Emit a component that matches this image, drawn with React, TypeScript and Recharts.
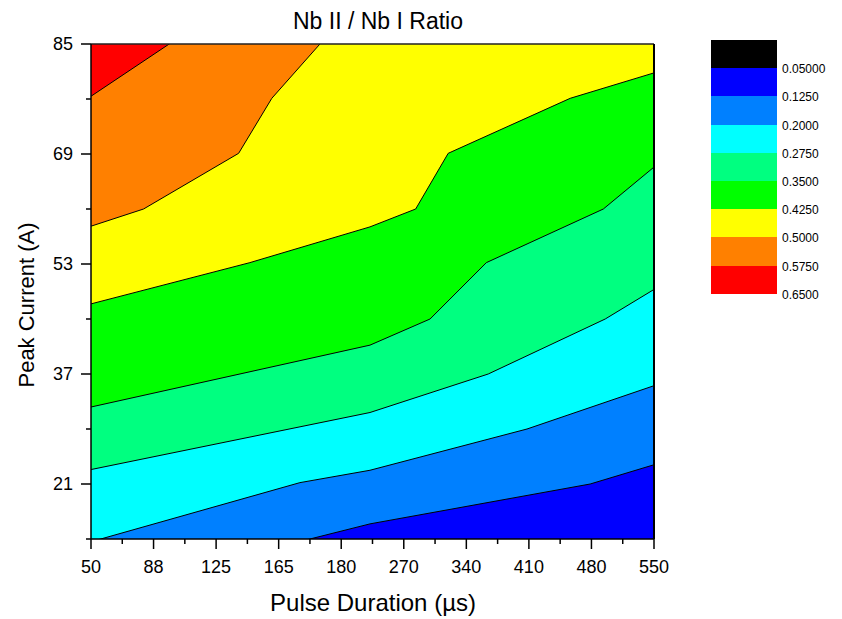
import React from "react";
import { ComposedChart, Area, XAxis, YAxis, CartesianGrid, ReferenceLine } from "recharts";

// x = position of the pulse duration on the (categorical-looking) axis, 0..9
const durationLabels = ["50", "88", "125", "165", "180", "270", "340", "410", "480", "550"];
const currentTicks = [13, 21, 29, 37, 45, 53, 61, 69, 77, 85];
const labeledCurrents = [21, 37, 53, 69, 85];

// contour lines (Nb II / Nb I ratio levels)
const line0125 = [
  { x: 0, y: 5.0 }, { x: 3.5, y: 13.0 }, { x: 4.46, y: 15.2 }, { x: 7.98, y: 21.0 }, { x: 9, y: 23.8 },
];
const line0200 = [
  { x: 0, y: 12.6 }, { x: 3.34, y: 21.2 }, { x: 4.46, y: 23.0 }, { x: 6.97, y: 29.0 }, { x: 9, y: 35.3 },
];
const line0275 = [
  { x: 0, y: 23.1 }, { x: 4.46, y: 31.4 }, { x: 6.35, y: 37.0 }, { x: 8.22, y: 45.0 }, { x: 9, y: 49.3 },
];
const line0350 = [
  { x: 0, y: 32.2 }, { x: 4.46, y: 41.2 }, { x: 5.42, y: 45.0 }, { x: 6.32, y: 53.2 }, { x: 8.19, y: 61.0 }, { x: 9, y: 67.1 },
];
const line0425 = [
  { x: 0, y: 47.2 }, { x: 2.54, y: 53.2 }, { x: 4.46, y: 58.4 }, { x: 5.19, y: 61.0 }, { x: 5.71, y: 69.1 }, { x: 7.66, y: 77.1 }, { x: 9, y: 80.8 },
];
const line0500 = [
  { x: 0, y: 58.5 }, { x: 0.84, y: 61.0 }, { x: 2.36, y: 69.1 }, { x: 2.89, y: 77.1 }, { x: 3.66, y: 85 }, { x: 4.5, y: 93 }, { x: 9, y: 100 },
];
const line0575 = [
  { x: 0, y: 77.4 }, { x: 1.25, y: 85 }, { x: 2, y: 90 }, { x: 9, y: 100 },
];

const levelLabels = ["0.05000", "0.1250", "0.2000", "0.2750", "0.3500", "0.4250", "0.5000", "0.5750", "0.6500"];
const levelColors = ["#000000", "#0000FF", "#0080FF", "#00FFFF", "#00FF80", "#00FF00", "#FFFF00", "#FF8000", "#FF0000"];

// each line fills everything above it with the next colour
const contours = [
  { data: line0125, color: "#0080FF" },
  { data: line0200, color: "#00FFFF" },
  { data: line0275, color: "#00FF80" },
  { data: line0350, color: "#00FF00" },
  { data: line0425, color: "#FFFF00" },
  { data: line0500, color: "#FF8000" },
  { data: line0575, color: "#FF0000" },
];

const FONT = "'Liberation Sans', Arial, sans-serif";

const XTick = (props: any) => {
  const { x, y, payload } = props;
  const major = Number.isInteger(payload.value);
  return (
    <g>
      <line x1={x} x2={x} y1={y} y2={y + (major ? 10 : 5)} stroke="#000" strokeWidth={1.5} />
      {major && (
        <text x={x} y={y + 33.5} textAnchor="middle" fontSize={18} fontFamily={FONT} fill="#000">
          {durationLabels[payload.value]}
        </text>
      )}
    </g>
  );
};

const YTick = (props: any) => {
  const { x, y, payload } = props;
  const major = labeledCurrents.includes(payload.value);
  return (
    <g>
      <line x1={x - (major ? 10 : 5)} x2={x} y1={y} y2={y} stroke="#000" strokeWidth={1.5} />
      {major && (
        <text x={x - 18} y={y + 6.4} textAnchor="end" fontSize={18} fontFamily={FONT} fill="#000">
          {payload.value}
        </text>
      )}
    </g>
  );
};

const halfTicks = Array.from({ length: 19 }, (_, i) => i / 2);

export default function App() {
  return (
    <div style={{ position: "absolute", left: 0, top: 0, width: 842, height: 619, background: "#fff", fontFamily: FONT }}>
      <ComposedChart width={842} height={619} margin={{ top: 44, right: 188, bottom: 50, left: 0 }}>
        <CartesianGrid fill="#0000FF" horizontal={false} vertical={false} stroke="none" />
        <XAxis
          type="number"
          dataKey="x"
          domain={[0, 9]}
          ticks={halfTicks}
          interval={0}
          allowDataOverflow
          height={30}
          tickSize={0}
          tickMargin={0}
          tickLine={false}
          tick={<XTick />}
          axisLine={{ stroke: "#000", strokeWidth: 1.5 }}
        />
        <YAxis
          type="number"
          dataKey="y"
          domain={[13, 85]}
          ticks={currentTicks}
          interval={0}
          allowDataOverflow
          width={91}
          tickSize={0}
          tickMargin={0}
          tickLine={false}
          tick={<YTick />}
          axisLine={{ stroke: "#000", strokeWidth: 1.5 }}
        />
        {contours.map((c, i) => (
          <Area
            key={i}
            data={c.data}
            dataKey="y"
            type="linear"
            baseValue="dataMax"
            fill={c.color}
            fillOpacity={1}
            stroke="#000"
            strokeWidth={1}
            dot={false}
            activeDot={false}
            isAnimationActive={false}
          />
        ))}
        <ReferenceLine y={85} stroke="#222" strokeWidth={1.5} />
        <ReferenceLine x={9} stroke="#000" strokeWidth={2} />
      </ComposedChart>

      <div style={{ position: "absolute", left: 0, width: 756, top: 10, lineHeight: "23px", textAlign: "center", fontSize: 23, color: "#000" }}>
        Nb II / Nb I Ratio
      </div>
      <div style={{ position: "absolute", left: 0, width: 746, top: 591, lineHeight: "24px", textAlign: "center", fontSize: 24, color: "#000" }}>
        Pulse Duration (µs)
      </div>
      <div
        style={{
          position: "absolute",
          left: 27,
          top: 305,
          transform: "translate(-50%, -50%) rotate(-90deg)",
          whiteSpace: "nowrap",
          fontSize: 22,
          lineHeight: "22px",
          color: "#000",
        }}
      >
        Peak Current (A)
      </div>

      {levelColors.map((col, i) => (
        <div
          key={col}
          style={{ position: "absolute", left: 711, top: 40 + i * 28.2, width: 66, height: 28.5, background: col }}
        />
      ))}
      {levelLabels.map((lab, i) => (
        <div
          key={lab}
          style={{ position: "absolute", left: 782, top: 40 + (i + 1) * 28.2 - 6, fontSize: 12, lineHeight: "14px", color: "#000" }}
        >
          {lab}
        </div>
      ))}
    </div>
  );
}
